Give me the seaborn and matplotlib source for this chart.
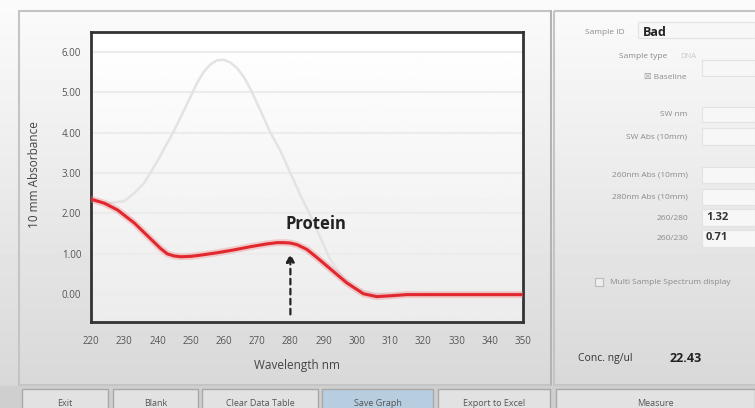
import numpy as np
import pandas as pd
import matplotlib
matplotlib.use("Agg")
import matplotlib.pyplot as plt
from matplotlib.patches import Rectangle
import seaborn as sns

# ─────────────────────────────────────────────
# Data
# ─────────────────────────────────────────────
wl_grey  = [220, 225, 230, 233, 236, 240, 245, 250, 252, 254, 256, 258, 260, 262, 264,
            266, 268, 271, 274, 277, 280, 283, 286, 289, 292, 296, 300, 305, 310, 320,
            330, 340, 350]
abs_grey = [2.30, 2.25, 2.30, 2.50, 2.75, 3.30, 4.05, 4.90, 5.25, 5.52, 5.70, 5.80, 5.81, 5.74, 5.60,
            5.38, 5.08, 4.55, 4.00, 3.55, 3.00, 2.45, 1.95, 1.40, 0.85, 0.38, 0.12, 0.00, -0.02, 0.00,
            0.00, 0.00, 0.00]

wl_red  = [220, 224, 228, 233, 238, 241, 243, 245, 247, 250, 253, 258, 263, 268, 273,
           276, 278, 280, 282, 285, 288, 292, 297, 302, 306, 310, 315, 320, 330, 340, 350]
abs_red = [2.35, 2.25, 2.08, 1.76, 1.36, 1.12, 0.99, 0.94, 0.92, 0.93, 0.96, 1.02, 1.09, 1.17, 1.24,
           1.27, 1.27, 1.26, 1.22, 1.10, 0.90, 0.62, 0.27, 0.00, -0.07, -0.05, -0.02, -0.02, -0.02, -0.02, -0.02]

x_ticks = [220, 230, 240, 250, 260, 270, 280, 290, 300, 310, 320, 330, 340, 350]
y_ticks = [0, 1, 2, 3, 4, 5, 6]

peak_label = "Protein"
peak_wl    = 280

side_labels = [  # label, right edge x, y
    ("Sample ID", 625, 33),
    ("Sample type", 667, 56),
    ("\u2612 Baseline", 687, 77),
    ("SW nm", 687, 115),
    ("SW Abs (10mm)", 687, 137),
    ("260nm Abs (10mm)", 688, 175),
    ("280nm Abs (10mm)", 688, 197),
    ("260/280", 688, 218),
    ("260/230", 688, 238),
]
ratio_260_280 = "1.32"
ratio_260_230 = "0.71"
sample_id     = "Bad"
conc_value    = "22.43"

buttons = [  # text, x0, x1
    ("Exit", 22, 108),
    ("Blank", 113, 198),
    ("Clear Data Table", 202, 318),
    ("Save Graph", 322, 433),
    ("Export to Excel", 438, 550),
    ("Measure", 556, 755),
]

grey_df = pd.DataFrame({"wl": wl_grey, "abs": abs_grey})
red_df  = pd.DataFrame({"wl": wl_red, "abs": abs_red})

# ─────────────────────────────────────────────
# Figure + software-window background
# ─────────────────────────────────────────────
sns.set_style("white")
plt.rcParams["font.family"] = ["Open Sans", "DejaVu Sans"]

W, H = 755, 408
fig = plt.figure(figsize=(W / 100, H / 100), dpi=100)

bg = fig.add_axes([0, 0, 1, 1])
bg.set_xlim(0, W); bg.set_ylim(H, 0); bg.set_axis_off()
shade = np.linspace(0.985, 0.84, H)
grad = np.repeat(shade[:, None], 2, axis=1)
bg.imshow(grad, extent=[0, W, H, 0], aspect="auto", cmap="gray", vmin=0, vmax=1,
          origin="upper", zorder=0)
bg.add_patch(Rectangle((0, 0), W, 10, color="#fbfbfb", zorder=1))

# panel frames
bg.add_patch(Rectangle((19, 11), 532, 374, fill=False, ec="#c4c4c4", lw=1.5, zorder=2))
bg.add_patch(Rectangle((554, 11), 210, 374, fill=False, ec="#c4c4c4", lw=1.5, zorder=2))
bg.plot([551, 551], [11, 385], color="#b0b0b0", lw=1.2, zorder=2)

# button bar
bg.add_patch(Rectangle((0, 386), W, 22, color="#cfcfcf", zorder=2))
for txt, x0, x1 in buttons:
    fc = "#b7cde0" if txt == "Save Graph" else "#e2e2e2"
    bg.add_patch(Rectangle((x0, 389), x1 - x0, 22, fc=fc, ec="#a9a9a9", lw=1, zorder=3))
    bg.text((x0 + x1) / 2, 404, txt, ha="center", va="center", fontsize=6.5,
            color="#555555", zorder=4)

# right panel: entry boxes
for y0, h in [(25, 16), (60, 16), (107, 15), (128, 17), (167, 16), (189, 16), (209, 17), (230, 17)]:
    x0 = 702 if y0 > 40 else 638
    bg.add_patch(Rectangle((x0, y0 - 3 if y0 == 25 else y0), W - x0, h, fc="#f7f7f7",
                           ec="#e2e2e2", lw=0.8, zorder=2))
for txt, xr, y in side_labels:
    bg.text(xr, y, txt, ha="right", va="center", fontsize=6, color="#8a8a8a", zorder=4)
bg.text(680, 56, "DNA", ha="left", va="center", fontsize=5.5, color="#c8c8c8", zorder=4)
bg.text(643, 33, sample_id, ha="left", va="center", fontsize=9, fontweight="bold",
        color="#222222", zorder=4)
bg.text(706, 218, ratio_260_280, ha="left", va="center", fontsize=8, fontweight="bold",
        color="#333333", zorder=4)
bg.text(706, 238, ratio_260_230, ha="left", va="center", fontsize=8, fontweight="bold",
        color="#333333", zorder=4)
bg.add_patch(Rectangle((595, 278), 8, 8, fc="#eeeeee", ec="#bbbbbb", lw=0.8, zorder=3))
bg.text(610, 283, "Multi Sample Spectrum display", ha="left", va="center", fontsize=6,
        color="#8a8a8a", zorder=4)
bg.text(578, 358, "Conc. ng/ul", ha="left", va="center", fontsize=7.5, color="#333333", zorder=4)
bg.text(670, 358, conc_value, ha="left", va="center", fontsize=9, fontweight="bold",
        color="#222222", zorder=4)

# ─────────────────────────────────────────────
# Spectrum chart
# ─────────────────────────────────────────────
ax = fig.add_axes([91 / W, 1 - 322 / H, (523 - 91) / W, (322 - 32) / H])
ax.set_facecolor("white")
inner = np.linspace(1.0, 0.925, 200)[:, None].repeat(2, axis=1)
ax.imshow(inner, extent=[220, 350, -0.7, 6.5], aspect="auto", cmap="gray",
          vmin=0, vmax=1, zorder=0, origin="upper")

for yv in y_ticks:
    ax.axhline(yv, color="#ececec", lw=1.5, zorder=1)

sns.lineplot(data=grey_df, x="wl", y="abs", ax=ax, color="#e3e3e3", lw=1.8, zorder=2)
sns.lineplot(data=red_df, x="wl", y="abs", ax=ax, color="#f08080", lw=5, alpha=0.35, zorder=3)
sns.lineplot(data=red_df, x="wl", y="abs", ax=ax, color="#e0282e", lw=2.2, zorder=4)

ax.annotate("", xy=(peak_wl, 1.07), xytext=(peak_wl, -0.58),
            arrowprops=dict(arrowstyle="-|>", color="#222222", lw=1.6, ls=(0, (2.5, 2)),
                            mutation_scale=12), zorder=5)
ax.text(peak_wl - 1.5, 1.73, peak_label, fontsize=12, fontweight="bold", color="#222222",
        ha="left", va="center", zorder=5)

ax.set_xlim(220, 350)
ax.set_ylim(-0.7, 6.5)
ax.set_xticks(x_ticks)
ax.set_xticklabels([str(v) for v in x_ticks])
ax.set_yticks(y_ticks)
ax.set_yticklabels([f"{v:.2f}" for v in y_ticks])
ax.tick_params(axis="both", direction="out", length=4, width=1.8, color="#333333",
               labelsize=7, labelcolor="#555555", pad=3)
ax.tick_params(axis="x", pad=6)
for s in ax.spines.values():
    s.set_color("#333333")
    s.set_linewidth(2)
ax.set_xlabel("")
ax.set_ylabel("")

bg.text(35, 175, "10 mm Absorbance", rotation=90, ha="center", va="center",
        fontsize=8.5, color="#444444", zorder=4)
bg.text(297, 366, "Wavelength nm", ha="center", va="center", fontsize=8.5,
        color="#444444", zorder=4)

fig.savefig("out.png", dpi=100)
